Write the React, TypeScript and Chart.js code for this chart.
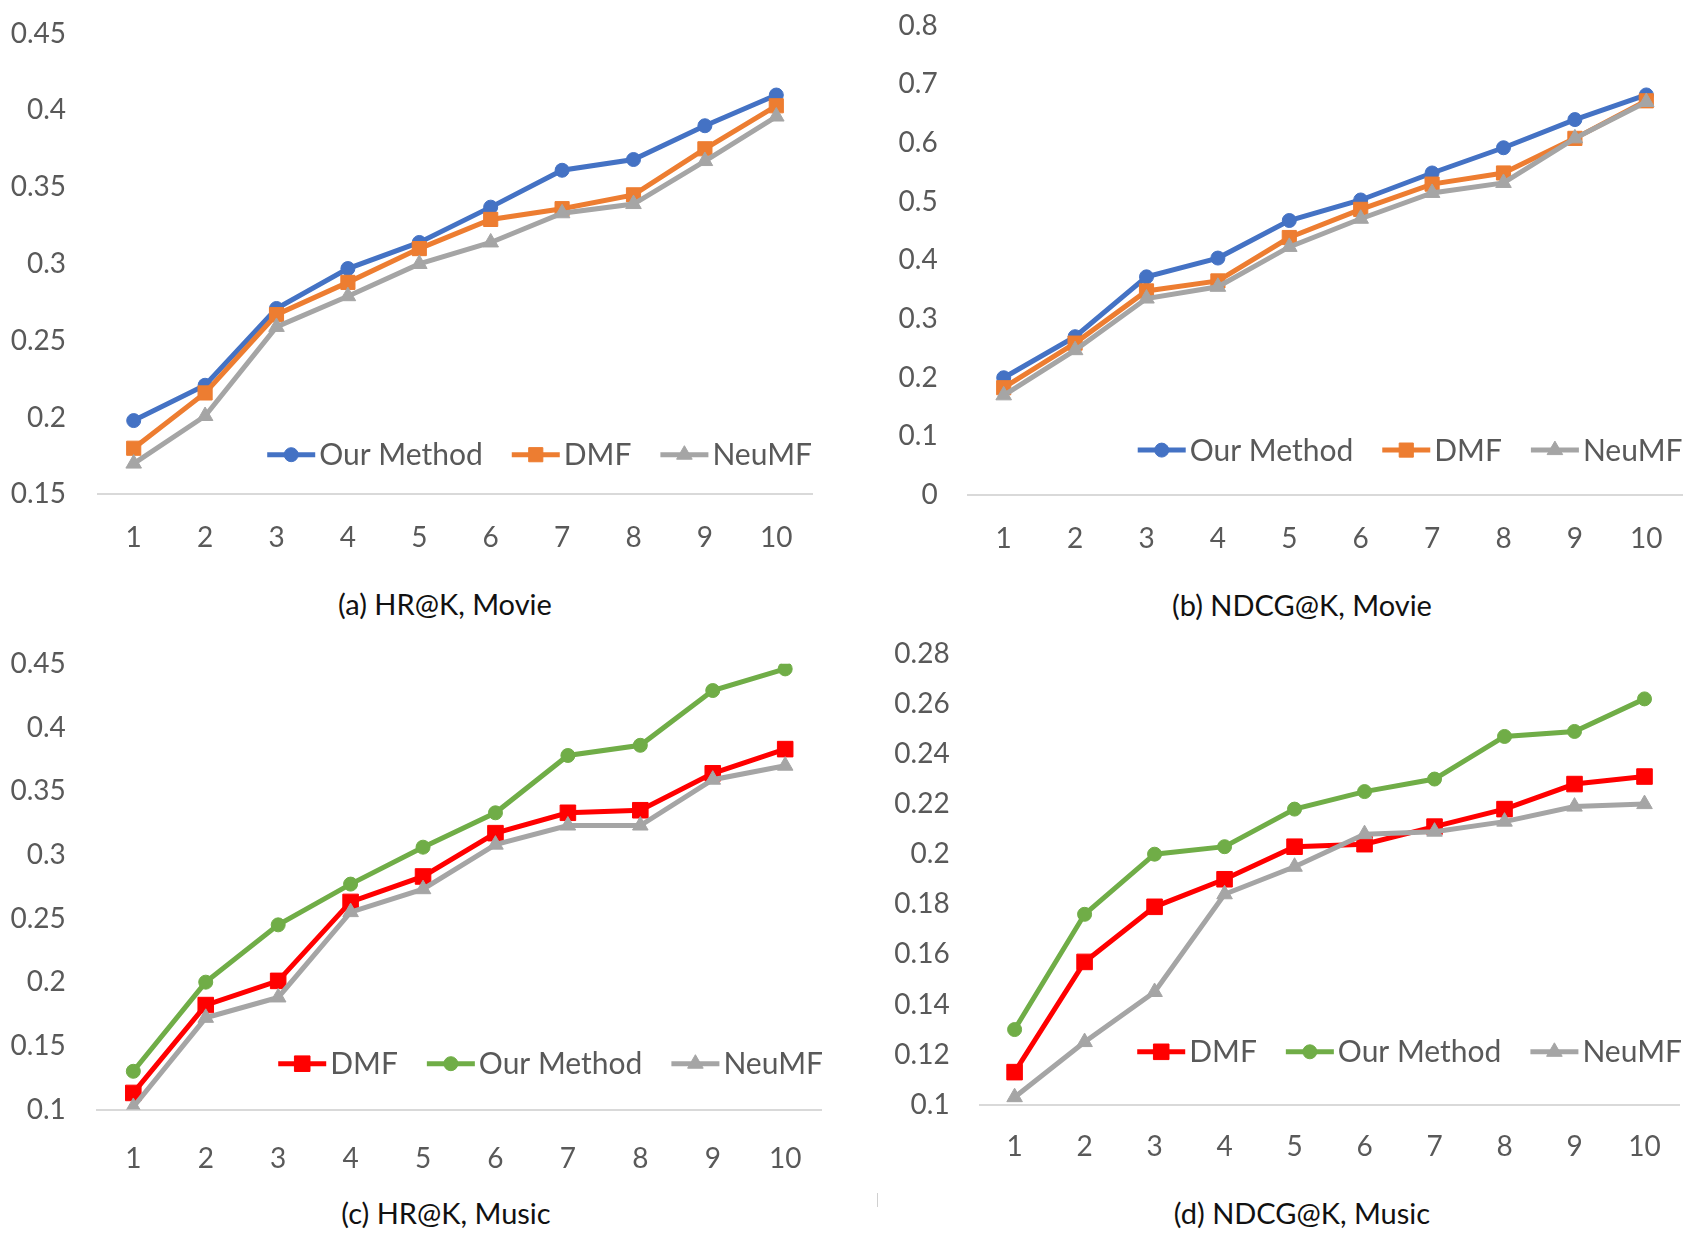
import React, { useEffect, useRef } from "react";
import { Chart, registerables } from "chart.js";
import { drawPoint } from "chart.js/helpers";

Chart.register(...registerables);

const FONT = "Lato, 'Open Sans', 'Liberation Sans', sans-serif";
const TICK_COLOR = "#595959";

// ---------- data ----------
const kLabels = ["1", "2", "3", "4", "5", "6", "7", "8", "9", "10"];

// (a) HR@K, Movie
const hrMovieOurs = [0.198, 0.221, 0.271, 0.297, 0.314, 0.337, 0.361, 0.368, 0.390, 0.410];
const hrMovieDMF = [0.180, 0.216, 0.267, 0.288, 0.310, 0.329, 0.336, 0.345, 0.375, 0.403];
const hrMovieNeuMF = [0.170, 0.201, 0.259, 0.279, 0.300, 0.314, 0.333, 0.339, 0.367, 0.396];
const hrMovieTicks = [0.15, 0.2, 0.25, 0.3, 0.35, 0.4, 0.45];

// (b) NDCG@K, Movie
const ndcgMovieOurs = [0.200, 0.270, 0.372, 0.404, 0.468, 0.503, 0.549, 0.592, 0.640, 0.682];
const ndcgMovieDMF = [0.183, 0.259, 0.348, 0.365, 0.439, 0.487, 0.530, 0.549, 0.608, 0.672];
const ndcgMovieNeuMF = [0.170, 0.247, 0.335, 0.355, 0.423, 0.471, 0.515, 0.532, 0.608, 0.670];
const ndcgMovieTicks = [0, 0.1, 0.2, 0.3, 0.4, 0.5, 0.6, 0.7, 0.8];

// (c) HR@K, Music
const hrMusicDMF = [0.113, 0.182, 0.201, 0.263, 0.283, 0.317, 0.333, 0.335, 0.364, 0.383];
const hrMusicOurs = [0.130, 0.200, 0.245, 0.277, 0.306, 0.333, 0.378, 0.386, 0.429, 0.446];
const hrMusicNeuMF = [0.102, 0.172, 0.188, 0.255, 0.273, 0.308, 0.323, 0.323, 0.359, 0.370];
const hrMusicTicks = [0.1, 0.15, 0.2, 0.25, 0.3, 0.35, 0.4, 0.45];

// (d) NDCG@K, Music
const ndcgMusicDMF = [0.113, 0.157, 0.179, 0.190, 0.203, 0.204, 0.211, 0.218, 0.228, 0.231];
const ndcgMusicOurs = [0.130, 0.176, 0.200, 0.203, 0.218, 0.225, 0.230, 0.247, 0.249, 0.262];
const ndcgMusicNeuMF = [0.103, 0.125, 0.145, 0.184, 0.195, 0.208, 0.209, 0.213, 0.219, 0.220];
const ndcgMusicTicks = [0.1, 0.12, 0.14, 0.16, 0.18, 0.2, 0.22, 0.24, 0.26, 0.28];

// ---------- styles ----------
const BLUE = "#4472C4";
const ORANGE = "#ED7D31";
const GRAY = "#A5A5A5";
const RED = "#FF0000";
const GREEN = "#70AD47";

function series(label: string, data: number[], color: string, style: string, radius: number, order: number) {
  return {
    label,
    data,
    borderColor: color,
    backgroundColor: color,
    borderWidth: 5,
    pointStyle: style,
    pointRadius: radius,
    pointBackgroundColor: color,
    pointBorderColor: color,
    pointBorderWidth: 1,
    tension: 0,
    order,
  };
}

// legend drawn inside the chart area, right aligned, above the baseline
const insideLegend = {
  id: "insideLegend",
  afterDatasetsDraw(chart: any, _args: any, opts: any) {
    const ctx = chart.ctx as CanvasRenderingContext2D;
    const area = chart.chartArea;
    ctx.save();
    ctx.font = `${opts.fontSize}px ${FONT}`;
    const items = chart.data.datasets.map((ds: any) => ({ ds, w: ctx.measureText(ds.label).width }));
    const lineLen = opts.lineLength;
    const textGap = opts.textGap;
    const itemGap = opts.itemGap;
    const total =
      items.reduce((s: number, it: any) => s + lineLen + textGap + it.w, 0) + itemGap * (items.length - 1);
    let x = area.right + opts.dx - total;
    const y = area.bottom - opts.bottomOffset;
    for (const it of items) {
      const ds = it.ds;
      ctx.strokeStyle = ds.borderColor;
      ctx.lineWidth = ds.borderWidth;
      ctx.beginPath();
      ctx.moveTo(x, y);
      ctx.lineTo(x + lineLen, y);
      ctx.stroke();
      ctx.fillStyle = ds.pointBackgroundColor;
      ctx.strokeStyle = ds.pointBorderColor;
      ctx.lineWidth = ds.pointBorderWidth;
      drawPoint(ctx, { pointStyle: ds.pointStyle, radius: ds.pointRadius, borderWidth: ds.pointBorderWidth, rotation: 0 }, x + lineLen / 2, y);
      ctx.fillStyle = TICK_COLOR;
      ctx.textAlign = "left";
      ctx.textBaseline = "middle";
      ctx.fillText(ds.label, x + lineLen + textGap, y + 1);
      x += lineLen + textGap + it.w + itemGap;
    }
    ctx.restore();
  },
};

type PanelCfg = {
  left: number;
  top: number;
  width: number;
  height: number;
  datasets: any[];
  yTicks: number[];
  yWidth: number;
  yPad: number;
  xHeight: number;
  xPad: number;
  padTop: number;
  padRight: number;
  legendBottom: number;
  legendDx: number;
  caption: string;
  capX: number;
  capY: number;
};

const panels: PanelCfg[] = [
  {
    left: 0, top: 0, width: 846, height: 570,
    datasets: [
      series("Our Method", hrMovieOurs, BLUE, "circle", 7, 3),
      series("DMF", hrMovieDMF, ORANGE, "rect", 10, 2),
      series("NeuMF", hrMovieNeuMF, GRAY, "triangle", 9, 1),
    ],
    yTicks: hrMovieTicks,
    yWidth: 98, yPad: 32,
    xHeight: 570 - 494.3, xPad: 26.7,
    padTop: 33.6, padRight: 846 - 812,
    legendBottom: 39.6, legendDx: 0,
    caption: "(a) HR@K, Movie", capX: 445, capY: 604,
  },
  {
    left: 846, top: 0, width: 847, height: 570,
    datasets: [
      series("Our Method", ndcgMovieOurs, BLUE, "circle", 7, 3),
      series("DMF", ndcgMovieDMF, ORANGE, "rect", 10, 2),
      series("NeuMF", ndcgMovieNeuMF, GRAY, "triangle", 9, 1),
    ],
    yTicks: ndcgMovieTicks,
    yWidth: 122, yPad: 30.3,
    xHeight: 570 - 495.1, xPad: 26.7,
    padTop: 25.7, padRight: 11,
    legendBottom: 45, legendDx: 0.5,
    caption: "(b) NDCG@K, Movie", capX: 1302 - 846, capY: 605,
  },
  {
    left: 0, top: 600, width: 846, height: 580,
    datasets: [
      series("DMF", hrMusicDMF, RED, "rect", 11, 3),
      series("Our Method", hrMusicOurs, GREEN, "circle", 7, 2),
      series("NeuMF", hrMusicNeuMF, GRAY, "triangle", 9, 1),
    ],
    yTicks: hrMusicTicks,
    yWidth: 97.1, yPad: 31.3,
    xHeight: 580 - 509.5, xPad: 32.7,
    padTop: 63.8, padRight: 846 - 821.4,
    legendBottom: 45.8, legendDx: 1.6,
    caption: "(c) HR@K, Music", capX: 446, capY: 1213 - 600,
  },
  {
    left: 846, top: 600, width: 847, height: 580,
    datasets: [
      series("DMF", ndcgMusicDMF, RED, "rect", 11, 3),
      series("Our Method", ndcgMusicOurs, GREEN, "circle", 7, 2),
      series("NeuMF", ndcgMusicNeuMF, GRAY, "triangle", 9, 1),
    ],
    yTicks: ndcgMusicTicks,
    yWidth: 133.6, yPad: 29.9,
    xHeight: 580 - 504.7, xPad: 25.8,
    padTop: 53.8, padRight: 13.5,
    legendBottom: 52.9, legendDx: 2.5,
    caption: "(d) NDCG@K, Music", capX: 1302 - 846, capY: 1213 - 600,
  },
];

function Panel({ cfg }: { cfg: PanelCfg }) {
  const ref = useRef<HTMLCanvasElement>(null);
  useEffect(() => {
    if (!ref.current) return;
    const ticks = cfg.yTicks;
    const chart = new Chart(ref.current, {
      type: "line",
      data: { labels: kLabels, datasets: cfg.datasets },
      plugins: [insideLegend as any],
      options: {
        animation: false,
        responsive: false,
        devicePixelRatio: 1,
        layout: { padding: { left: 0, top: cfg.padTop, right: cfg.padRight, bottom: 0 } },
        plugins: {
          legend: { display: false },
          tooltip: { enabled: false },
          insideLegend: {
            fontSize: 30,
            lineLength: 48,
            textGap: 4,
            itemGap: 29,
            bottomOffset: cfg.legendBottom,
            dx: cfg.legendDx,
          },
        } as any,
        scales: {
          x: {
            type: "category",
            offset: true,
            grid: { display: false, drawTicks: false, offset: true },
            border: { display: true, color: "#D9D9D9", width: 2 },
            ticks: {
              color: TICK_COLOR,
              font: { family: FONT, size: 28 },
              padding: cfg.xPad,
              maxRotation: 0,
              autoSkip: false,
            },
            afterFit: (s: any) => {
              s.height = cfg.xHeight;
              s.paddingLeft = 0;
              s.paddingRight = 0;
            },
          },
          y: {
            type: "linear",
            min: ticks[0],
            max: ticks[ticks.length - 1],
            grid: { display: false, drawTicks: false },
            border: { display: false },
            afterBuildTicks: (s: any) => {
              s.ticks = ticks.map((v) => ({ value: v }));
            },
            ticks: {
              color: TICK_COLOR,
              font: { family: FONT, size: 28 },
              padding: cfg.yPad,
              autoSkip: false,
              callback: (v: any) => String(v),
            },
            afterFit: (s: any) => {
              s.width = cfg.yWidth;
              s.paddingTop = 0;
              s.paddingBottom = 0;
            },
          },
        },
      } as any,
    });
    return () => chart.destroy();
  }, [cfg]);
  return (
    <div style={{ position: "absolute", left: cfg.left, top: cfg.top, width: cfg.width, height: cfg.height }}>
      <canvas ref={ref} width={cfg.width} height={cfg.height} style={{ width: cfg.width, height: cfg.height, display: "block" }} />
      <div
        style={{
          position: "absolute",
          left: cfg.capX - 250,
          top: cfg.capY - 18,
          width: 500,
          height: 36,
          lineHeight: "36px",
          textAlign: "center",
          fontFamily: FONT,
          fontSize: 29,
          color: "#111",
          whiteSpace: "nowrap",
        }}
      >
        {cfg.caption}
      </div>
    </div>
  );
}

export default function App() {
  return (
    <div style={{ position: "absolute", left: 0, top: 0, width: 1693, height: 1244, background: "#fff", overflow: "hidden" }}>
      {panels.map((p, i) => (
        <Panel key={i} cfg={p} />
      ))}
      <div style={{ position: "absolute", left: 877, top: 1193, width: 1, height: 14, background: "#D0D0D0" }} />
    </div>
  );
}
